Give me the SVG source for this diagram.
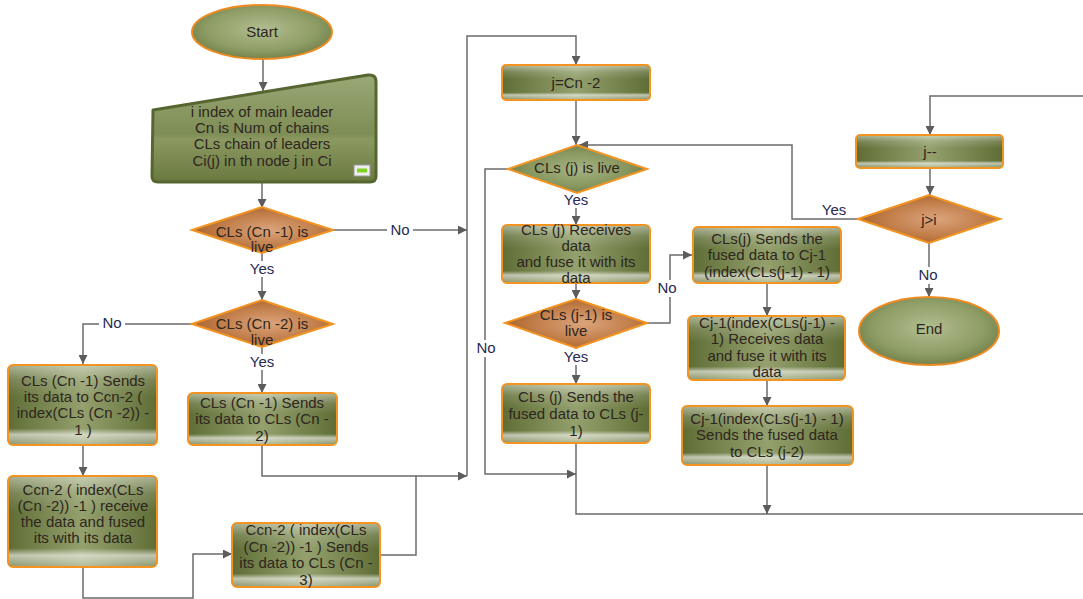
<svg xmlns="http://www.w3.org/2000/svg" width="1083" height="599" viewBox="0 0 1083 599">
<defs>
<linearGradient id="gbox" x1="0" y1="0" x2="1" y2="0">
<stop offset="0" stop-color="#5f6d35"/>
<stop offset="0.5" stop-color="#94a16e"/>
<stop offset="1" stop-color="#5f6d35"/>
</linearGradient>
<linearGradient id="gloss" x1="0" y1="0" x2="0" y2="1">
<stop offset="0" stop-color="#ffffff" stop-opacity="0.45"/>
<stop offset="0.18" stop-color="#ffffff" stop-opacity="0.15"/>
<stop offset="0.4" stop-color="#ffffff" stop-opacity="0"/>
<stop offset="0.8" stop-color="#ffffff" stop-opacity="0"/>
<stop offset="0.88" stop-color="#ffffff" stop-opacity="0.6"/>
<stop offset="1" stop-color="#ffffff" stop-opacity="0.3"/>
</linearGradient>
<radialGradient id="gell" cx="0.5" cy="0.45" r="0.6">
<stop offset="0" stop-color="#b2be90"/>
<stop offset="0.65" stop-color="#8e9c66"/>
<stop offset="1" stop-color="#6c7b42"/>
</radialGradient>
<radialGradient id="gbrown" cx="0.55" cy="0.5" r="0.6">
<stop offset="0" stop-color="#dba47c"/>
<stop offset="0.6" stop-color="#c07c47"/>
<stop offset="1" stop-color="#a35e2a"/>
</radialGradient>
<radialGradient id="ggreen" cx="0.5" cy="0.5" r="0.6">
<stop offset="0" stop-color="#a6b383"/>
<stop offset="0.6" stop-color="#87965e"/>
<stop offset="1" stop-color="#66753c"/>
</radialGradient>
<linearGradient id="ginput" x1="0" y1="0" x2="0" y2="1">
<stop offset="0" stop-color="#9aa877"/>
<stop offset="0.55" stop-color="#7e8c55"/>
<stop offset="0.6" stop-color="#8b9961"/>
<stop offset="1" stop-color="#6a7940"/>
</linearGradient>
<marker id="ah" viewBox="0 0 10 10" refX="10" refY="5" markerWidth="10" markerHeight="9" markerUnits="userSpaceOnUse" orient="auto">
<path d="M0,0 L10,5 L0,10 z" fill="#5c5c5c"/>
</marker>
</defs>
<style>
.box{fill:url(#gbox);stroke:#f39422;stroke-width:2}
.gl{fill:url(#gloss);stroke:none}
.dia{fill:url(#gbrown);stroke:#f39422;stroke-width:2}
.diag{fill:url(#ggreen);stroke:#f39422;stroke-width:2}
.ell{fill:url(#gell);stroke:#ee8a22;stroke-width:2}
.t{font-family:"Liberation Sans",Arial,sans-serif;font-size:15px;fill:#2e2620;text-anchor:middle}
.lb{font-family:"Liberation Sans",Arial,sans-serif;font-size:15px;fill:#2a2a50;text-anchor:middle}
.c{fill:none;stroke:#6b6b6b;stroke-width:1.5}
.a{marker-end:url(#ah)}
.bg{fill:#ffffff}
</style>

<g id="connectors">
<path class="c a" d="M263,60 V91"/>
<path class="c a" d="M262,182 V208"/>
<path class="c a" d="M333,230 H467"/>
<path class="c a" d="M262,253 V300"/>
<path class="c a" d="M192,324 H83 V364"/>
<path class="c a" d="M262,347 V393"/>
<path class="c a" d="M83,445 V476"/>
<path class="c a" d="M83,567 V598 H193 V554 H232"/>
<path class="c a" d="M262,445 V476 H467"/>
<path class="c" d="M380,555 H416 V476"/>
<path class="c a" d="M467,476 V36 H576 V65"/>
<path class="c a" d="M576,100 V145"/>
<path class="c a" d="M576,193 V225"/>
<path class="c a" d="M508,169 H485 V474 H576"/>
<path class="c a" d="M576,283 V299"/>
<path class="c a" d="M576,348 V384"/>
<path class="c a" d="M647,323 H670 V255 H692"/>
<path class="c" d="M576,443 V514 H1083"/>
<path class="c a" d="M767,283 V316"/>
<path class="c a" d="M767,380 V406"/>
<path class="c a" d="M767,465 V514"/>
<path class="c a" d="M1083,96 H930 V135"/>
<path class="c a" d="M930,168 V195"/>
<path class="c a" d="M858,219 H792 V145 H579"/>
<path class="c a" d="M929,243 V297"/>
<rect class="bg" x="387" y="222" width="26" height="16"/>
<text class="lb" x="400" y="235">No</text>
<rect class="bg" x="247" y="261" width="30" height="16"/>
<text class="lb" x="262" y="274">Yes</text>
<rect class="bg" x="99" y="316" width="26" height="16"/>
<text class="lb" x="112" y="328">No</text>
<rect class="bg" x="247" y="354" width="30" height="16"/>
<text class="lb" x="262" y="367">Yes</text>
<rect class="bg" x="561" y="193" width="30" height="15"/>
<text class="lb" x="576" y="205">Yes</text>
<rect class="bg" x="473" y="340" width="26" height="17"/>
<text class="lb" x="486" y="353">No</text>
<rect class="bg" x="561" y="349" width="30" height="16"/>
<text class="lb" x="576" y="362">Yes</text>
<rect class="bg" x="655" y="280" width="26" height="17"/>
<text class="lb" x="667" y="293">No</text>
<text class="lb" x="834" y="215">Yes</text>
<rect class="bg" x="915" y="267" width="26" height="17"/>
<text class="lb" x="928" y="280">No</text>
</g>

<g id="start">
<ellipse class="ell" cx="262" cy="32" rx="70" ry="27"/>
<text class="t" x="262" y="37">Start</text>
</g>

<g id="input">
<path d="M153,110 L368,75 Q376,74 376,82 V176 Q376,182 370,182 H158 Q152,182 152,176 Z" fill="url(#ginput)" stroke="#566630" stroke-width="3" stroke-linejoin="round"/>
<rect x="354" y="165" width="16" height="11" fill="#eeeeee" stroke="#9a9a9a" stroke-width="1"/>
<rect x="357" y="168.5" width="10" height="4" fill="#7ed321"/>
<text class="t" x="262" y="117">i index of main leader</text>
<text class="t" x="262" y="133">Cn is Num of chains</text>
<text class="t" x="262" y="149">CLs chain of leaders</text>
<text class="t" x="262" y="166">Ci(j) in th node j in Ci</text>
</g>

<g id="dec1">
<polygon class="dia" points="192,230 262,207 333,230 262,253"/>
<text class="t" x="262" y="237">CLs (Cn -1) is</text>
<text class="t" x="262" y="252">live</text>
</g>

<g id="dec2">
<polygon class="dia" points="192,324 262,300 333,324 262,347"/>
<text class="t" x="262" y="329">CLs (Cn -2) is</text>
<text class="t" x="262" y="345">live</text>
</g>

<g id="boxA">
<rect class="box" x="8" y="365" width="149" height="80" rx="5"/>
<rect class="gl" x="9" y="366" width="147" height="78" rx="4"/>
<text class="t" x="83" y="386">CLs (Cn -1) Sends</text>
<text class="t" x="83" y="402">its data to Ccn-2 (</text>
<text class="t" x="83" y="418">index(CLs (Cn -2))  -</text>
<text class="t" x="83" y="435">1 )</text>
</g>

<g id="boxB">
<rect class="box" x="8" y="476" width="149" height="91" rx="5"/>
<rect class="gl" x="9" y="477" width="147" height="89" rx="4"/>
<text class="t" x="83" y="495">Ccn-2 ( index(CLs</text>
<text class="t" x="83" y="511">(Cn -2))  -1 )  receive</text>
<text class="t" x="83" y="527">the data and fused</text>
<text class="t" x="83" y="543">its with its data</text>
</g>

<g id="boxD">
<rect class="box" x="188" y="393" width="149" height="52" rx="5"/>
<rect class="gl" x="189" y="394" width="147" height="50" rx="4"/>
<text class="t" x="262" y="408">CLs (Cn -1) Sends</text>
<text class="t" x="262" y="424">its data to CLs (Cn -</text>
<text class="t" x="262" y="441">2)</text>
</g>

<g id="boxC">
<rect class="box" x="232" y="523" width="148" height="64" rx="5"/>
<rect class="gl" x="233" y="524" width="146" height="62" rx="4"/>
<text class="t" x="306" y="535">Ccn-2 ( index(CLs</text>
<text class="t" x="306" y="552">(Cn -2))  -1 )   Sends</text>
<text class="t" x="306" y="568">its data to CLs (Cn -</text>
<text class="t" x="306" y="585">3)</text>
</g>

<g id="initj">
<rect class="box" x="502" y="65" width="148" height="35" rx="4"/>
<rect class="gl" x="503" y="66" width="146" height="33" rx="3"/>
<text class="t" x="576" y="88">j=Cn -2</text>
</g>

<g id="dec3">
<polygon class="diag" points="508,169 577,145 647,169 577,193"/>
<text class="t" x="577" y="173">CLs (j) is live</text>
</g>

<g id="boxE">
<rect class="box" x="502" y="225" width="148" height="58" rx="5"/>
<rect class="gl" x="503" y="226" width="146" height="56" rx="4"/>
<text class="t" x="576" y="235">CLs (j) Receives</text>
<text class="t" x="576" y="251">data</text>
<text class="t" x="576" y="267">and fuse it with its</text>
<text class="t" x="576" y="283">data</text>
</g>

<g id="dec4">
<polygon class="dia" points="505,323 576,299 647,323 576,348"/>
<text class="t" x="576" y="320">CLs (j-1) is</text>
<text class="t" x="576" y="336">live</text>
</g>

<g id="boxF">
<rect class="box" x="502" y="384" width="148" height="59" rx="5"/>
<rect class="gl" x="503" y="385" width="146" height="57" rx="4"/>
<text class="t" x="576" y="402">CLs (j) Sends the</text>
<text class="t" x="576" y="419">fused data to CLs (j-</text>
<text class="t" x="576" y="436">1)</text>
</g>

<g id="boxG">
<rect class="box" x="693" y="227" width="148" height="56" rx="5"/>
<rect class="gl" x="694" y="228" width="146" height="54" rx="4"/>
<text class="t" x="767" y="244">CLs(j) Sends the</text>
<text class="t" x="767" y="260">fused  data to Cj-1</text>
<text class="t" x="767" y="277">(index(CLs(j-1) - 1)</text>
</g>

<g id="boxH">
<rect class="box" x="688" y="316" width="157" height="64" rx="5"/>
<rect class="gl" x="689" y="317" width="155" height="62" rx="4"/>
<text class="t" x="767" y="328">Cj-1(index(CLs(j-1) -</text>
<text class="t" x="767" y="344">1) Receives data</text>
<text class="t" x="767" y="361">and fuse it with its</text>
<text class="t" x="767" y="377">data</text>
</g>

<g id="boxI">
<rect class="box" x="682" y="406" width="171" height="59" rx="5"/>
<rect class="gl" x="683" y="407" width="169" height="57" rx="4"/>
<text class="t" x="767" y="424">Cj-1(index(CLs(j-1) - 1)</text>
<text class="t" x="767" y="440">Sends the fused data</text>
<text class="t" x="767" y="457">to CLs (j-2)</text>
</g>

<g id="decj">
<rect class="box" x="856" y="135" width="147" height="33" rx="4"/>
<rect class="gl" x="857" y="136" width="145" height="31" rx="3"/>
<text class="t" x="930" y="157">j--</text>
</g>

<g id="dec5">
<polygon class="dia" points="858,219 929,195 1000,219 929,243"/>
<text class="t" x="929" y="225">j&gt;i</text>
</g>

<g id="end">
<ellipse class="ell" cx="929" cy="331" rx="70" ry="34"/>
<text class="t" x="929" y="334">End</text>
</g>
</svg>
